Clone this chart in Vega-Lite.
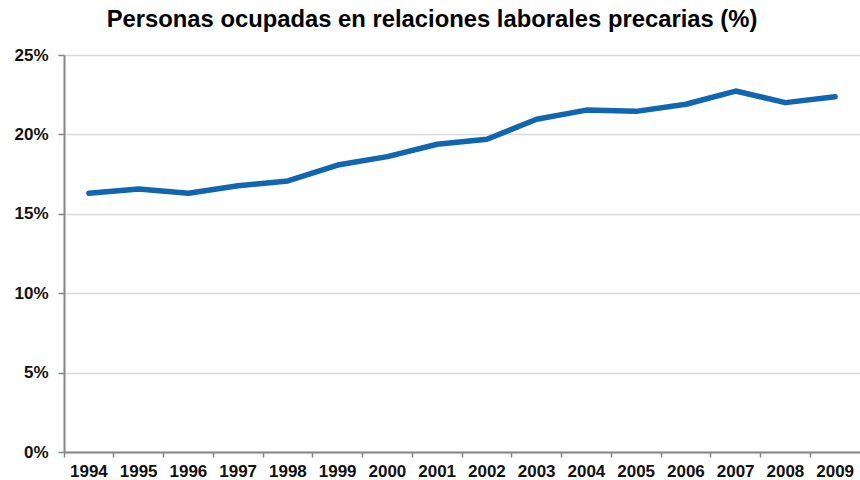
{
  "$schema": "https://vega.github.io/schema/vega-lite/v6.json",
  "autosize": "none",
  "width": 796,
  "height": 397,
  "padding": {"left": 64, "top": 55, "right": 0, "bottom": 28},
  "background": "white",
  "config": {"view": {"stroke": null}},
  "title": {
    "text": "Personas ocupadas en relaciones laborales precarias (%)",
    "font": "Liberation Sans",
    "fontSize": 23.8,
    "fontWeight": "bold",
    "color": "#000000",
    "anchor": "middle",
    "dx": -30,
    "offset": 14
  },
  "data": {
    "values": [
      {"year": "1994", "pct": 16.29},
      {"year": "1995", "pct": 16.56},
      {"year": "1996", "pct": 16.29},
      {"year": "1997", "pct": 16.77},
      {"year": "1998", "pct": 17.07},
      {"year": "1999", "pct": 18.07},
      {"year": "2000", "pct": 18.6},
      {"year": "2001", "pct": 19.38},
      {"year": "2002", "pct": 19.69},
      {"year": "2003", "pct": 20.95},
      {"year": "2004", "pct": 21.53},
      {"year": "2005", "pct": 21.45},
      {"year": "2006", "pct": 21.9},
      {"year": "2007", "pct": 22.73},
      {"year": "2008", "pct": 22.0},
      {"year": "2009", "pct": 22.37}
    ]
  },
  "mark": {"type": "line", "color": "#1166b0", "strokeWidth": 5.5, "strokeCap": "round", "strokeJoin": "round"},
  "encoding": {
    "x": {
      "field": "year",
      "type": "ordinal",
      "scale": {"type": "band", "paddingInner": 0, "paddingOuter": 0},
      "axis": {
        "title": null,
        "labelAngle": 0,
        "bandPosition": 0,
        "labelFont": "Liberation Sans",
        "labelFontSize": 17,
        "labelFontWeight": "bold",
        "labelColor": "#111111",
        "labelPadding": 6,
        "labelOverlap": false,
        "domainColor": "#868686",
        "domainWidth": 2,
        "tickColor": "#868686",
        "tickWidth": 1.5,
        "tickSize": 5,
        "grid": false
      }
    },
    "y": {
      "field": "pct",
      "type": "quantitative",
      "scale": {"domain": [0, 25], "nice": false},
      "axis": {
        "title": null,
        "values": [0, 5, 10, 15, 20, 25],
        "labelExpr": "datum.value + '%'",
        "labelFont": "Liberation Sans",
        "labelFontSize": 17,
        "labelFontWeight": "bold",
        "labelColor": "#111111",
        "labelPadding": 10,
        "domainColor": "#868686",
        "domainWidth": 2,
        "tickColor": "#868686",
        "tickWidth": 1.5,
        "tickSize": 6,
        "gridColor": "#d9d9d9",
        "gridWidth": 1.5
      }
    }
  }
}
